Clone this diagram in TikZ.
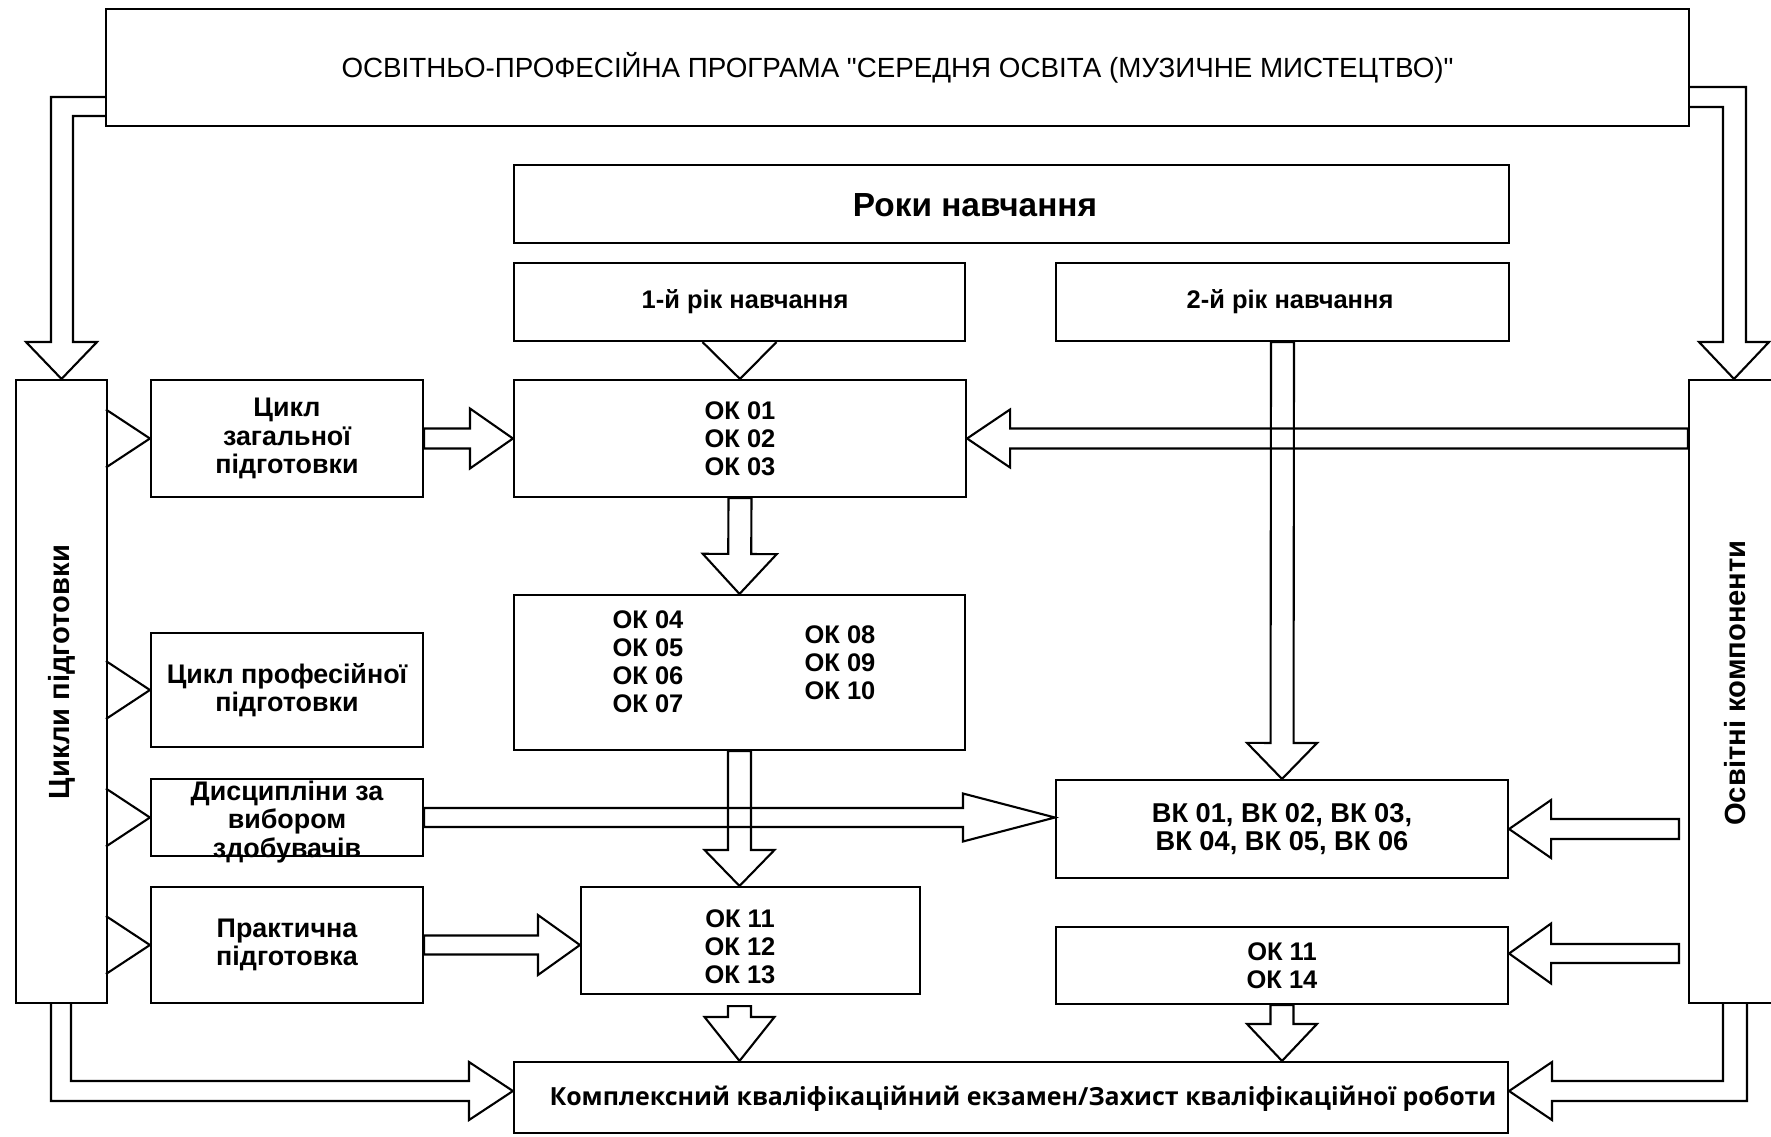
\documentclass[tikz,border=0pt]{standalone}
\usepackage{fontspec}
\setmainfont{Liberation Sans}
\newfontfamily\titlefont{Liberation Sans}[Ligatures=TeXOff]
\newfontfamily\osans{Open Sans}
\usetikzlibrary{calc,fit}

\tikzset{
    box/.style={draw, line width=1.2pt, inner sep=0pt},
    blk/.style={draw, line width=1.2pt, line join=miter},
    txt/.style={font=\bfseries\fontsize{14.5}{16}\selectfont, align=center, inner sep=0pt},
    cyc/.style={txt, font=\bfseries\fontsize{15.3}{16}\selectfont},
    side/.style={txt, rotate=90, font=\bfseries\fontsize{16.6}{18}\selectfont},
}

% hollow block arrow: start, tip, shaft half width, head half width, head length
\newcommand{\fatarrow}[5]{%
    \path ($#2!#5!#1$) coordinate (fah);
    \draw[blk] ($#1!#3!90:#2$) -- ($(fah)!#3!90:#2$) -- ($(fah)!#4!90:#2$) -- #2
        -- ($(fah)!#4!-90:#2$) -- ($(fah)!#3!-90:#2$) -- ($#1!#3!-90:#2$) -- cycle;
}

\begin{document}
\begin{tikzpicture}[x=0.02cm, y=-0.02cm]
    \useasboundingbox (0,0) rectangle (1771,1136);

    % Draw the programme box
    \node[box, fit={(106,9) (1689,126)}] (prog) {};
    \node[txt, font=\titlefont\fontsize{15.8}{18}\selectfont] (progt) at (prog)
        {ОСВІТНЬО-ПРОФЕСІЙНА ПРОГРАМА "СЕРЕДНЯ ОСВІТА (МУЗИЧНЕ МИСТЕЦТВО)"};

    % Draw the side boxes
    \node[box, fit={(16,380) (107,1003)}] (lft) {};
    \node[side] (lftt) at (62,672) {Цикли підготовки};
    \node[box, fit={(1689,380) (1779,1003)}] (rgt) {};
    \node[side] (rgtt) at (1735,683) {Освітні компоненти};

    % Draw the years of study
    \node[box, fit={(514,165) (1509,243)}] (roky) {};
    \node[txt, font=\bfseries\fontsize{19}{21}\selectfont] (rokyt) at (975,205) {Роки навчання};
    \node[box, fit={(514,263) (965,341)}] (rik1) {};
    \node[txt] (rik1t) at (745,302) {1-й рік навчання};
    \node[box, fit={(1056,263) (1509,341)}] (rik2) {};
    \node[txt] (rik2t) at (1290,302) {2-й рік навчання};

    % Draw the cycles
    \node[box, fit={(151,380) (423,497)}] (gen) {};
    \node[cyc] (gent) at (gen) {Цикл\\загальної\\підготовки};
    \node[box, fit={(151,633) (423,747)}] (prof) {};
    \node[cyc] (proft) at (prof) {Цикл професійної\\підготовки};
    \node[box, fit={(151,779) (423,856)}] (disc) {};
    \node[cyc] (disct) at (287,822) {Дисципліни за\\вибором\\здобувачів};
    \node[box, fit={(151,887) (423,1003)}] (prac) {};
    \node[cyc] (pract) at (prac) {Практична\\підготовка};

    % Draw the components
    \node[box, fit={(514,380) (966,497)}] (ok01) {};
    \node[txt] (ok01t) at (ok01) {ОК 01\\ОК 02\\ОК 03};
    \node[box, fit={(514,595) (965,750)}] (ok04) {};
    \node[txt] (ok04a) at (648,662) {ОК 04\\ОК 05\\ОК 06\\ОК 07};
    \node[txt] (ok04b) at (840,663) {ОК 08\\ОК 09\\ОК 10};
    \node[box, fit={(581,887) (920,994)}] (ok11) {};
    \node[txt] (ok11t) at (740,947) {ОК 11\\ОК 12\\ОК 13};
    \node[box, fit={(1056,780) (1508,878)}] (vk) {};
    \node[txt, font=\bfseries\fontsize{15.5}{16}\selectfont] (vkt) at (vk) {ВК 01, ВК 02, ВК 03,\\ВК 04, ВК 05, ВК 06};
    \node[box, fit={(1056,927) (1508,1004)}] (ok14) {};
    \node[txt] (ok14t) at (ok14) {ОК 11\\ОК 14};

    % Draw the final attestation
    \node[box, fit={(514,1062) (1508,1133)}] (final) {};
    \node[txt, font=\osans\bfseries\fontsize{14.2}{16}\selectfont] (finalt) at (1023,1099)
        {Комплексний кваліфікаційний екзамен/Захист кваліфікаційної роботи};

    % arrows from programme to side boxes
    \draw[blk] (prog.west |- 0,97) -- (51,97) -- (51,342) -- (26,342) -- (lft.north)
        -- (97,342) -- (73,342) -- (73,116) -- (prog.west |- 0,116);
    \draw[blk] (prog.east |- 0,87) -- (1746,87) -- (1746,342) -- (1769,342) -- (rgt.north)
        -- (1699,342) -- (1723,342) -- (1723,107) -- (prog.east |- 0,107);

    % triangles from cycles box
    \foreach \n in {gen,prof,disc,prac}
        \draw[blk] ($(\n.west)+(-44,-29)$) -- (\n.west) -- ($(\n.west)+(-44,29)$);

    % arrows into the first year
    \draw[blk] ($(rik1.south)+(-37,0)$) -- (ok01.north) -- ($(rik1.south)+(37,0)$);
    \fatarrow{(gen.east)}{(ok01.west)}{0.2cm}{0.6cm}{0.86cm}
    \coordinate (r01) at (ok01.east -| rgt.west);
    \fatarrow{(r01)}{(ok01.east)}{0.2cm}{0.58cm}{0.86cm}
    \fatarrow{(ok01.south)}{(ok04.north)}{0.23cm}{0.74cm}{0.8cm}
    \coordinate (o11) at (ok04.south |- ok11.north);
    \fatarrow{(ok04.south)}{(o11)}{0.23cm}{0.7cm}{0.72cm}
    \coordinate (po) at (prac.east -| ok11.west);
    \fatarrow{(prac.east)}{(po)}{0.19cm}{0.6cm}{0.84cm}

    % arrows into the second year
    \coordinate (dv1) at (disc.east);
    \coordinate (dv2) at (dv1 -| vk.west);
    \fatarrow{(dv1)}{(dv2)}{0.19cm}{0.48cm}{1.84cm}
    \fatarrow{(rik2.south)}{(vk.north)}{0.23cm}{0.7cm}{0.72cm}
    \coordinate (rv) at ($(vk.east -| rgt.west)+(-9,0)$);
    \fatarrow{(rv)}{(vk.east)}{0.2cm}{0.58cm}{0.84cm}
    \coordinate (r14) at ($(ok14.east)+(0,-12)$);
    \coordinate (r14s) at ($(ok14.east -| rgt.west)+(-9,-12)$);
    \fatarrow{(r14s)}{(r14)}{0.19cm}{0.6cm}{0.84cm}

    % arrows into the final attestation
    \coordinate (of1) at ($(o11 |- ok11.south)+(0,11)$);
    \coordinate (of2) at (o11 |- final.north);
    \fatarrow{(of1)}{(of2)}{0.23cm}{0.7cm}{0.88cm}
    \coordinate (of3) at (ok14.south |- final.north);
    \fatarrow{(ok14.south)}{(of3)}{0.23cm}{0.7cm}{0.74cm}
    \draw[blk] (51,1003) -- (51,1101) -- (469,1101) -- (469,1120) -- (final.west |- 0,1091)
        -- (469,1062) -- (469,1081) -- (71,1081) -- (71,1003);
    \draw[blk] (1747,1003) -- (1747,1101) -- (1552,1101) -- (1552,1120) -- (final.east |- 0,1091)
        -- (1552,1062) -- (1552,1081) -- (1723,1081) -- (1723,1003);

\end{tikzpicture}
\end{document}
